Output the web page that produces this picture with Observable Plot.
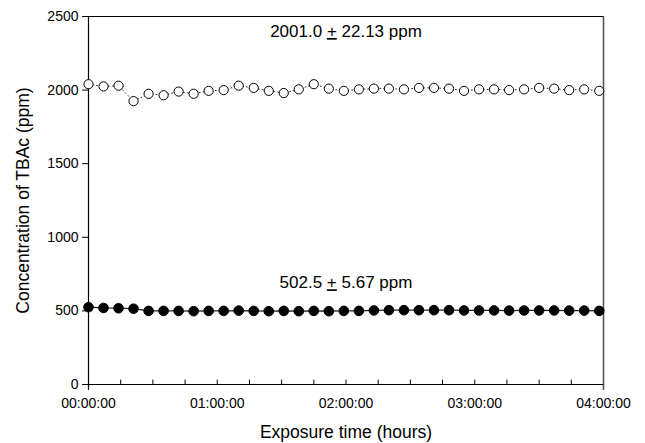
<!DOCTYPE html>
<html>
<head>
<meta charset="utf-8">
<script src="https://cdn.jsdelivr.net/npm/d3@7"></script>
<script src="https://cdn.jsdelivr.net/npm/@observablehq/plot@0.6"></script>
<style>
  html, body { margin: 0; padding: 0; background: #fff; }
</style>
</head>
<body>
<div id="chart"></div>
<script>
// Exposure time in minutes
const times = [0, 7, 14, 21, 28, 35, 42, 49, 56, 63, 70, 77, 84, 91, 98, 105, 112, 119, 126, 133, 140, 147, 154, 161, 168, 175, 182, 189, 196, 203, 210, 217, 224, 231, 238];
// High concentration series (open circles), ppm
const highValues = [2040, 2025, 2030, 1925, 1975, 1965, 1990, 1975, 1995, 2000, 2030, 2015, 1995, 1980, 2005, 2040, 2010, 1995, 2005, 2010, 2010, 2005, 2015, 2015, 2010, 1995, 2005, 2005, 2000, 2005, 2015, 2010, 2000, 2005, 1995];
// Low concentration series (filled circles), ppm
const lowValues = [525, 520, 518, 515, 500, 500, 500, 498, 500, 500, 502, 500, 498, 500, 498, 500, 498, 500, 500, 503, 505, 505, 505, 505, 505, 503, 503, 503, 502, 503, 503, 503, 502, 502, 500];
const yTicks = [0, 500, 1000, 1500, 2000, 2500];
const xMajorTicks = [0, 60, 120, 180, 240];
const xMinorTicks = [0, 15, 30, 45, 60, 75, 90, 105, 120, 135, 150, 165, 180, 195, 210, 225, 240];
const annotations = [
  {t: 120, v: 2398, text: "2001.0 \u00B1 22.13 ppm"},
  {t: 120, v: 691, text: "502.5 \u00B1 5.67 ppm"}
];

const high = times.map((t, i) => ({t, v: highValues[i]}));
const low = times.map((t, i) => ({t, v: lowValues[i]}));

const fmt = m => {
  const h = Math.floor(m / 60), mm = m % 60;
  return String(h).padStart(2, "0") + ":" + String(mm).padStart(2, "0") + ":00";
};

const chart = Plot.plot({
  width: 645,
  height: 443,
  marginLeft: 88,
  marginRight: 42,
  marginTop: 16,
  marginBottom: 59,
  style: {fontFamily: "Liberation Sans, Arial, sans-serif", fontSize: "14px", background: "#fff", color: "#000"},
  x: {domain: [0, 240]},
  y: {domain: [0, 2500]},
  marks: [
    Plot.ruleX(xMinorTicks, {y1: 0, y2: 30, stroke: "#000", strokeWidth: 1}),
    Plot.ruleX([0], {y1: -40, y2: 2500, stroke: "#000", strokeWidth: 1.2, clip: false}),
    Plot.ruleX([240], {y1: -40, y2: 2500, stroke: "#555", strokeWidth: 1.6, clip: false}),
    Plot.ruleY([0], {stroke: "#000", strokeWidth: 1.2}),
    Plot.ruleY([2500], {stroke: "#000", strokeWidth: 1.2}),
    Plot.axisY({ticks: yTicks, tickSize: 6, tickPadding: 4, fontSize: 14, tickFormat: d => String(d),
      label: "Concentration of TBAc (ppm)", labelAnchor: "center", labelArrow: "none", labelOffset: 72}),
    Plot.axisX({ticks: xMajorTicks, tickSize: 0, tickPadding: 14, tickFormat: fmt, fontSize: 14,
      label: "Exposure time (hours)", labelAnchor: "center", labelArrow: "none", labelOffset: 53}),
    Plot.line(high, {x: "t", y: "v", stroke: "#333", strokeWidth: 1, strokeDasharray: "1,3"}),
    Plot.line(low, {x: "t", y: "v", stroke: "#222", strokeWidth: 1.2}),
    Plot.dot(high, {x: "t", y: "v", r: 4.6, fill: "#fff", stroke: "#000", strokeWidth: 1}),
    Plot.dot(low, {x: "t", y: "v", r: 4.8, fill: "#000", stroke: "#000", strokeWidth: 1}),
    Plot.text(annotations, {x: "t", y: "v", text: "text", fontSize: 17, fill: "#000"})
  ]
});

document.getElementById("chart").appendChild(chart);
d3.select(chart).selectAll("[aria-label='y-axis label'] text, [aria-label='x-axis label'] text").style("font-size", "17.5px");
// Render the ± sign as an underlined plus, as in the original figure
d3.select(chart).selectAll("text").each(function() {
  const el = d3.select(this);
  const content = el.text();
  if (!content.includes("\u00B1")) return;
  const parts = content.split("\u00B1");
  el.text(null);
  el.append("tspan").text(parts[0]);
  el.append("tspan").text("+").style("text-decoration", "underline");
  el.append("tspan").text(parts[1]);
});
</script>
</body>
</html>
